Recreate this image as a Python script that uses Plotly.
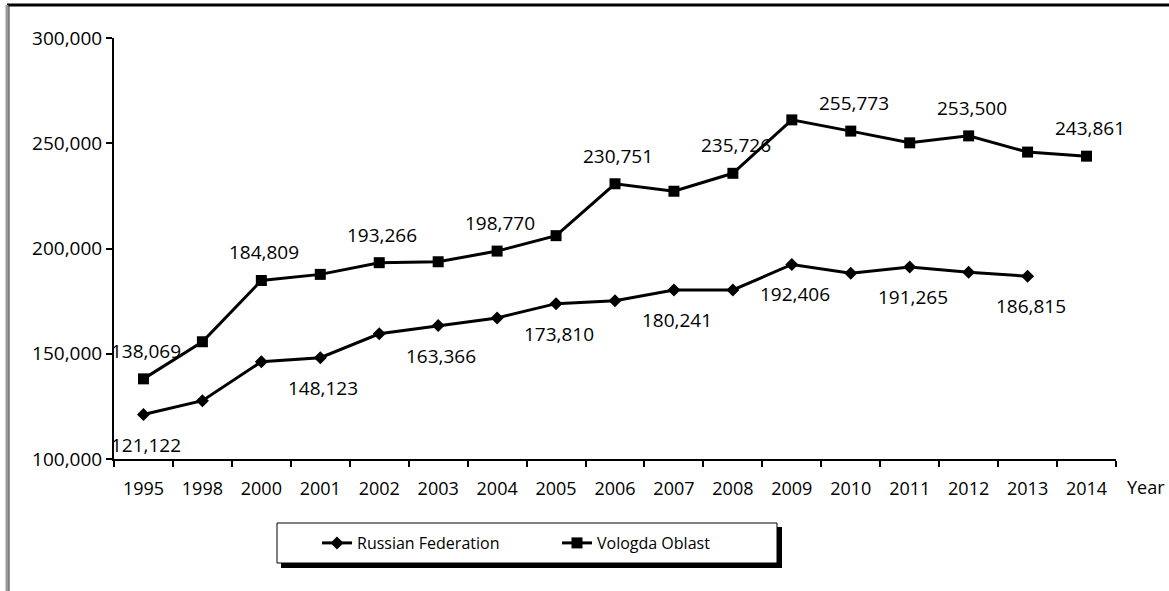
import plotly.graph_objects as go

# Category axis and series values
years = ["1995", "1998", "2000", "2001", "2002", "2003", "2004", "2005", "2006",
         "2007", "2008", "2009", "2010", "2011", "2012", "2013", "2014"]
russia = [121122, 127700, 146200, 148123, 159500, 163366, 167000, 173810, 175200,
          180241, 180300, 192406, 188300, 191265, 188700, 186815, None]
vologda = [138069, 155700, 184809, 187700, 193266, 193700, 198770, 206100, 230751,
           227200, 235726, 261100, 255773, 250200, 253500, 245800, 243861]

# Years whose values are printed next to the markers
russia_labelled = ["1995", "2001", "2003", "2005", "2007", "2009", "2011", "2013"]
vologda_labelled = ["1995", "2000", "2002", "2004", "2006", "2008", "2010", "2012", "2014"]

y_ticks = [100000, 150000, 200000, 250000, 300000]

W, H = 1169, 591
L, R, T, B = 114, 53, 38, 132
PW, PH = W - L - R, H - T - B
FONT = "Open Sans"


def px(x):
    return (x - L) / PW


def py(y):
    return (H - B - y) / PH


fig = go.Figure()
fig.add_trace(go.Scatter(
    x=years, y=russia, name="Russian Federation", mode="lines+markers",
    line=dict(color="black", width=3),
    marker=dict(symbol="diamond", size=10, color="black"),
))
fig.add_trace(go.Scatter(
    x=years, y=vologda, name="Vologda Oblast", mode="lines+markers",
    line=dict(color="black", width=3),
    marker=dict(symbol="square", size=11, color="black"),
))

# value labels: on a category axis annotations are placed by category index
annotations = []
for i, (yr, v) in enumerate(zip(years, vologda)):
    if yr in vologda_labelled:
        annotations.append(dict(x=i, y=v, text=f"{v:,}", showarrow=False,
                                yshift=28, xshift=3,
                                font=dict(family=FONT, size=19, color="black")))
for i, (yr, v) in enumerate(zip(years, russia)):
    if yr in russia_labelled and v is not None:
        annotations.append(dict(x=i, y=v, text=f"{v:,}", showarrow=False,
                                yshift=-30, xshift=3,
                                font=dict(family=FONT, size=19, color="black")))
annotations.append(dict(x=px(1125), y=py(487), xref="paper", yref="paper",
                        xanchor="left", yanchor="middle", text="Year", showarrow=False,
                        font=dict(family=FONT, size=18, color="black")))

shapes = [
    # frame lines along the top and left edge
    dict(type="line", xref="paper", yref="paper", x0=px(7), x1=px(W), y0=py(5), y1=py(5),
         line=dict(color="black", width=3)),
    dict(type="line", xref="paper", yref="paper", x0=px(7), x1=px(7), y0=py(5), y1=py(H),
         line=dict(color="#9a9a9a", width=3)),
    dict(type="line", xref="paper", yref="paper", x0=px(9), x1=px(9), y0=py(5), y1=py(H),
         line=dict(color="#333333", width=1)),
    # legend box with drop shadow
    dict(type="rect", xref="paper", yref="paper", x0=px(281), x1=px(782), y0=py(527), y1=py(568),
         fillcolor="black", line=dict(width=0)),
    dict(type="rect", xref="paper", yref="paper", x0=px(277), x1=px(777), y0=py(523), y1=py(563),
         fillcolor="white", line=dict(color="black", width=1)),
]

fig.update_layout(
    width=W, height=H,
    margin=dict(l=L, r=R, t=T, b=B),
    paper_bgcolor="white", plot_bgcolor="white",
    font=dict(family=FONT, size=17, color="black"),
    showlegend=True,
    legend=dict(orientation="h", x=px(317), y=py(543), xanchor="left", yanchor="middle",
                bgcolor="rgba(0,0,0,0)", borderwidth=0,
                font=dict(family=FONT, size=16, color="black"),
                entrywidth=195, entrywidthmode="pixels", itemwidth=30),
    annotations=annotations,
    shapes=shapes,
)
fig.update_xaxes(type="category", categoryorder="array", categoryarray=years,
                 range=[-0.5, len(years) - 0.5], autorange=False,
                 showline=True, linecolor="black", linewidth=2,
                 ticks="outside", tickson="boundaries", ticklen=6, tickwidth=2,
                 tickcolor="black", showgrid=False, zeroline=False, tickangle=0,
                 ticklabelstandoff=12,
                 tickfont=dict(family=FONT, size=18, color="black"))
fig.update_yaxes(range=[100000, 300000], autorange=False, tickvals=y_ticks, tickformat=",",
                 showline=True, linecolor="black", linewidth=2,
                 ticks="outside", ticklen=6, tickwidth=2, tickcolor="black",
                 showgrid=False, zeroline=False,
                 tickfont=dict(family=FONT, size=19, color="black"))

fig.write_html("out.html")
